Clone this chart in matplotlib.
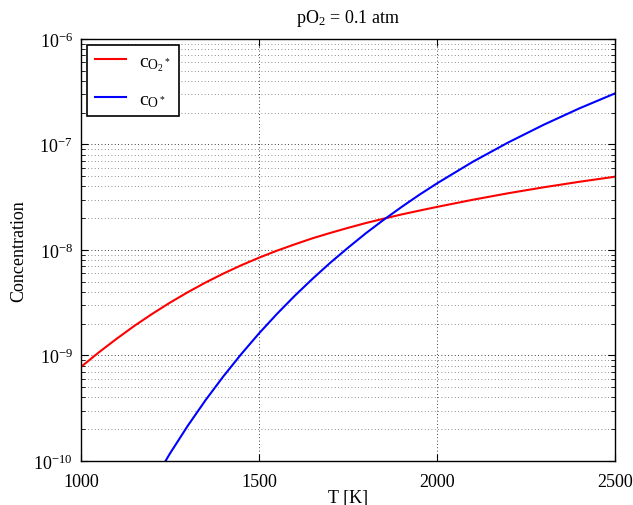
import matplotlib
matplotlib.use("Agg")
import matplotlib.pyplot as plt
from matplotlib.ticker import LogLocator, NullFormatter

# Values (T in K, concentrations)
T_red = [1000, 1050, 1100, 1150, 1200, 1250, 1300, 1350, 1400, 1450, 1500,
         1550, 1600, 1650, 1700, 1750, 1800, 1850, 1900, 1950, 2000,
         2100, 2200, 2300, 2400, 2500]
c_O2 = [7.8e-10, 1.07e-9, 1.44e-9, 1.91e-9, 2.48e-9, 3.17e-9, 3.98e-9,
        4.92e-9, 5.98e-9, 7.16e-9, 8.45e-9, 9.84e-9, 1.13e-8, 1.29e-8,
        1.45e-8, 1.62e-8, 1.80e-8, 1.98e-8, 2.17e-8, 2.36e-8, 2.56e-8,
        2.99e-8, 3.45e-8, 3.93e-8, 4.43e-8, 4.95e-8]

T_blue = [1200, 1250, 1300, 1350, 1400, 1450, 1500, 1550, 1600, 1650, 1700,
          1750, 1800, 1850, 1900, 1950, 2000, 2100, 2200, 2300, 2400, 2500]
c_O = [6.1e-11, 1.18e-10, 2.16e-10, 3.78e-10, 6.35e-10, 1.03e-9, 1.62e-9,
       2.47e-9, 3.67e-9, 5.32e-9, 7.56e-9, 1.05e-8, 1.44e-8, 1.93e-8, 2.55e-8,
       3.33e-8, 4.28e-8, 6.84e-8, 1.045e-7, 1.54e-7, 2.2e-7, 3.05e-7]

plt.rcParams['font.family'] = ['Liberation Serif', 'DejaVu Serif']
plt.rcParams['mathtext.fontset'] = 'custom'
plt.rcParams['mathtext.rm'] = 'Liberation Serif'
plt.rcParams['mathtext.it'] = 'Liberation Serif:italic'
plt.rcParams['font.size'] = 13

fig = plt.figure(figsize=(6.33, 5.06), dpi=100)
ax = fig.add_axes([0.128, 0.087, 0.8436, 0.834])

ax.semilogy(T_red, c_O2, color='red', lw=1.5, label=r'$\mathrm{c}_{\mathrm{O}_2{}^*}$')
ax.semilogy(T_blue, c_O, color='blue', lw=1.5, label=r'$\mathrm{c}_{\mathrm{O}^*}$')

ax.set_xlim(1000, 2500)
ax.set_ylim(1e-10, 1e-6)
ax.set_xticks([1000, 1500, 2000, 2500])
ax.yaxis.set_major_locator(LogLocator(base=10, numticks=10))
ax.yaxis.set_minor_locator(LogLocator(base=10, subs=range(2, 10), numticks=20))
ax.yaxis.set_minor_formatter(NullFormatter())

ax.grid(True, which='major', linestyle=(0, (1, 3)), color='black', lw=0.6)
ax.grid(True, which='minor', axis='y', linestyle=(0, (1, 3)), color='dimgray', lw=0.6)
ax.tick_params(which='both', direction='in', top=True, right=True)
ax.tick_params(which='major', length=5, labelsize=13)
ax.tick_params(which='minor', length=3)
ax.tick_params(axis='x', which='major', pad=9)
ax.tick_params(axis='y', which='major', pad=6)
for s in ax.spines.values():
    s.set_linewidth(1.0)

ax.set_xlabel('T [K]', labelpad=-1)
ax.set_ylabel('Concentration')
ax.set_title(r'pO$_2$ = 0.1 atm', fontsize=13, pad=12)

leg = ax.legend(loc='upper left', fancybox=False, edgecolor='black',
                framealpha=1, fontsize=14, handlelength=1.6,
                handletextpad=0.7, labelspacing=0.9, borderaxespad=0.3)
leg.get_frame().set_linewidth(1.2)

fig.savefig('out.png', dpi=100)
